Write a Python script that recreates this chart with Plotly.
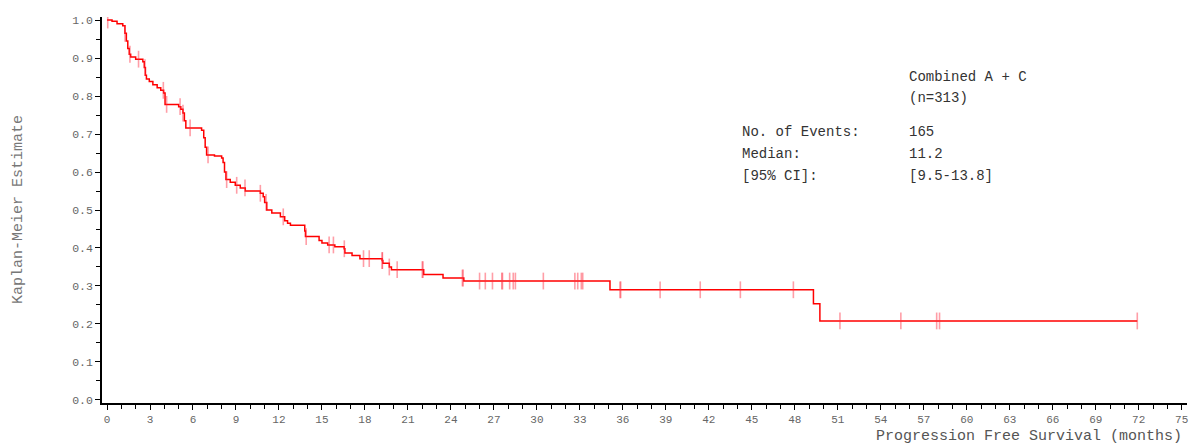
import numpy as np
import plotly.graph_objects as go

# Kaplan-Meier step points (time in months, survival estimate after the drop)
km_time = [0.0, 0.35, 0.7, 1.1, 1.25, 1.35, 1.45, 1.55, 1.65, 2.0, 2.5, 2.6, 2.68, 2.75,
           2.95, 3.2, 3.5, 3.75, 3.95, 4.05, 5.0, 5.15, 5.3, 5.4, 5.5, 6.6, 6.75, 6.85,
           6.95, 7.5, 8.0, 8.1, 8.2, 8.3, 8.6, 8.95, 9.3, 9.65, 10.7, 10.9, 11.0, 11.15,
           11.5, 12.1, 12.4, 12.6, 12.8, 13.8, 13.85, 14.8, 15.0, 15.4, 15.9, 16.55, 16.6,
           17.1, 17.65, 19.2, 19.25, 19.7, 19.85, 22.1, 23.45, 24.9, 35.1, 49.3, 49.75, 71.9]
km_surv = [1.0, 0.997, 0.99, 0.985, 0.965, 0.945, 0.925, 0.91, 0.903, 0.897, 0.89, 0.875,
           0.855, 0.845, 0.838, 0.83, 0.822, 0.815, 0.808, 0.778, 0.772, 0.765, 0.755,
           0.735, 0.716, 0.71, 0.69, 0.665, 0.645, 0.642, 0.637, 0.625, 0.6, 0.58, 0.573,
           0.565, 0.558, 0.55, 0.544, 0.535, 0.52, 0.5, 0.492, 0.482, 0.472, 0.465, 0.46,
           0.445, 0.43, 0.42, 0.413, 0.408, 0.403, 0.398, 0.387, 0.38, 0.372, 0.367, 0.36,
           0.35, 0.343, 0.33, 0.321, 0.313, 0.29, 0.253, 0.208, 0.208]

# Censoring times (months)
censor_time = [0.05, 1.26, 1.6, 2.2, 2.65, 3.93, 4.16, 5.1, 5.3, 5.8, 7.05, 8.35, 9.05,
               9.63, 10.7, 11.1, 12.3, 13.9, 15.5, 15.8, 16.56, 17.9, 18.3, 19.2, 19.22,
               19.7, 20.25, 22.0, 22.05, 24.8, 24.85, 26.0, 26.4, 26.9, 27.55, 27.6, 28.1,
               28.35, 28.5, 30.45, 32.65, 32.85, 33.1, 33.2, 35.8, 35.85, 38.6, 41.4, 44.2,
               47.9, 51.15, 55.4, 57.9, 58.1, 71.9]

x_ticks = list(range(0, 76, 3))
y_ticks = [round(0.1 * i, 1) for i in range(11)]
y_tick_text = [f"{v:.1f}" for v in y_ticks]

group_label = "Combined A + C"
n_label = "(n=313)"
stat_labels = ["No. of Events:", "Median:", "[95% CI]:"]
stat_values = ["165", "11.2", "[9.5-13.8]"]

FONT = "Liberation Mono, Courier New, monospace"

# survival at each censor time from the step function
kt = np.array(km_time)
ks = np.array(km_surv)
idx = np.searchsorted(kt, np.array(censor_time), side="right") - 1
censor_surv = ks[np.clip(idx, 0, len(ks) - 1)]

fig = go.Figure()
fig.add_trace(go.Scatter(
    x=km_time, y=km_surv, mode="lines", line=dict(color="#ff0000", width=1.5, shape="hv"),
    hoverinfo="skip", showlegend=False))
fig.add_trace(go.Scatter(
    x=censor_time, y=censor_surv, mode="markers",
    marker=dict(symbol="line-ns", size=12, line=dict(color="rgba(255,40,60,0.45)", width=1.6)),
    hoverinfo="skip", showlegend=False))

TXT = "#333333"
ann = []
ann.append(dict(x=55.83, y=0.85, text=group_label, xref="x", yref="y", showarrow=False,
                xanchor="left", yanchor="middle", font=dict(family=FONT, size=14, color=TXT)))
ann.append(dict(x=55.83, y=0.795, text=n_label, xref="x", yref="y", showarrow=False,
                xanchor="left", yanchor="middle", font=dict(family=FONT, size=14, color=TXT)))
stat_y = [0.705, 0.647, 0.589]
for lab, val, yy in zip(stat_labels, stat_values, stat_y):
    ann.append(dict(x=44.17, y=yy, text=lab, xref="x", yref="y", showarrow=False,
                    xanchor="left", yanchor="middle", font=dict(family=FONT, size=14, color=TXT)))
    ann.append(dict(x=55.83, y=yy, text=val, xref="x", yref="y", showarrow=False,
                    xanchor="left", yanchor="middle", font=dict(family=FONT, size=14, color=TXT)))
ann.append(dict(x=-0.0774, y=0.5, xref="paper", yref="paper", text="Kaplan-Meier Estimate",
                textangle=-90, showarrow=False, xanchor="center", yanchor="middle",
                font=dict(family=FONT, size=15, color="#777777")))
ann.append(dict(x=0.997, y=-0.088, xref="paper", yref="paper",
                text="Progression Free Survival (months)", showarrow=False,
                xanchor="right", yanchor="middle", font=dict(family=FONT, size=15, color="#555555")))

fig.update_layout(
    width=1189, height=446,
    margin=dict(l=102, r=2, t=17, b=43),
    paper_bgcolor="white", plot_bgcolor="white",
    annotations=ann,
    xaxis=dict(range=[-0.35, 75.37], tickvals=x_ticks, ticktext=[str(v) for v in x_ticks],
               showgrid=False, zeroline=False, showline=True, linecolor="black", linewidth=1.5,
               ticks="outside", ticklen=5, tickwidth=1.2, tickcolor="black",
               minor=dict(dtick=1, ticks="outside", ticklen=4, tickwidth=1.2, tickcolor="black"),
               tickfont=dict(family=FONT, size=11, color="#666666"), automargin=False),
    yaxis=dict(range=[-0.008, 1.008], tickvals=y_ticks, ticktext=y_tick_text,
               showgrid=False, zeroline=False, showline=True, linecolor="black", linewidth=1.5,
               ticks="outside", ticklen=5, tickwidth=1.2, tickcolor="black",
               minor=dict(dtick=0.05, tick0=0, ticks="outside", ticklen=4, tickwidth=1.2, tickcolor="black"),
               tickfont=dict(family=FONT, size=11.5, color="#666666"), automargin=False),
)

# remove the default page margin so the 1189x446 figure fills the window exactly
fig.write_html("out.html", config={"displayModeBar": False},
               post_script="document.body.style.margin='0';document.body.style.overflow='hidden';")
